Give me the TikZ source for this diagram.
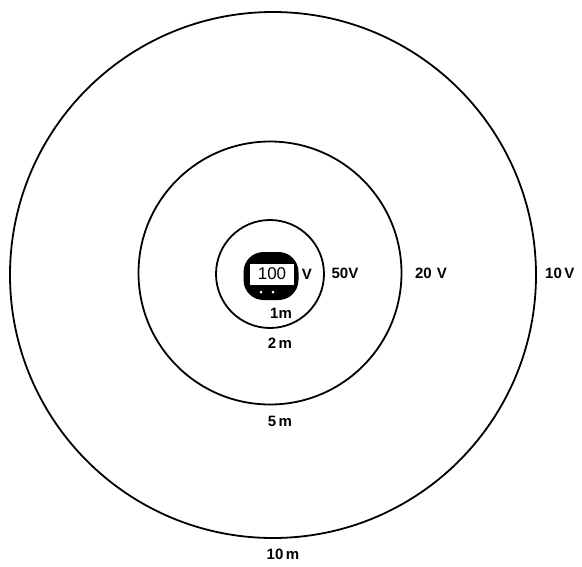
\documentclass[tikz,border=0pt]{standalone}
\usepackage{fontspec}
\setmainfont{Liberation Sans}
\begin{document}
\begin{tikzpicture}[x=1pt,y=-1pt,
  ring/.style={circle,draw=black,line width=1.8pt,inner sep=0pt},
  lbl/.style={inner sep=0pt,font=\fontsize{15}{15}\selectfont\bfseries},
  meter/.style={rounded corners=20pt,fill=black,inner sep=0pt}]
\useasboundingbox[fill=white] (0,0) rectangle (582,566);
% rings
\node[ring,minimum size=526pt] (outer) at (273,275) {};
\node[ring,minimum size=263pt] (middle) at (270,273) {};
\node[ring,minimum size=108pt] (inner) at (270,274) {};
% meter symbol
\node[meter,minimum width=55pt,minimum height=48pt] (meter) at (271,276) {};
\node[fill=white,draw=black,line width=1pt,minimum width=45pt,minimum height=22pt,inner sep=0pt,
      font=\fontsize{17}{17}\selectfont] (disp) at (272,274) {100};
\node[circle,fill=white,minimum size=3pt,inner sep=0pt] (dotA) at (261,292) {};
\node[circle,fill=white,minimum size=3pt,inner sep=0pt] (dotB) at (273,292) {};
% voltage labels
\node[lbl] (v100) at (307,274) {V};
\node[lbl] (v50) at (345,273) {50V};
\node[lbl] (v20) at (431,273) {20\,\,V};
\node[lbl,anchor=west] (v10) at (545,273) {10\,V};
% distance labels
\node[lbl] (d1) at (281,313) {1m};
\node[lbl] (d2) at (280,343) {2\,m};
\node[lbl] (d5) at (280,421) {5\,m};
\node[lbl] (d10) at (283,554) {10\,m};
\end{tikzpicture}
\end{document}
